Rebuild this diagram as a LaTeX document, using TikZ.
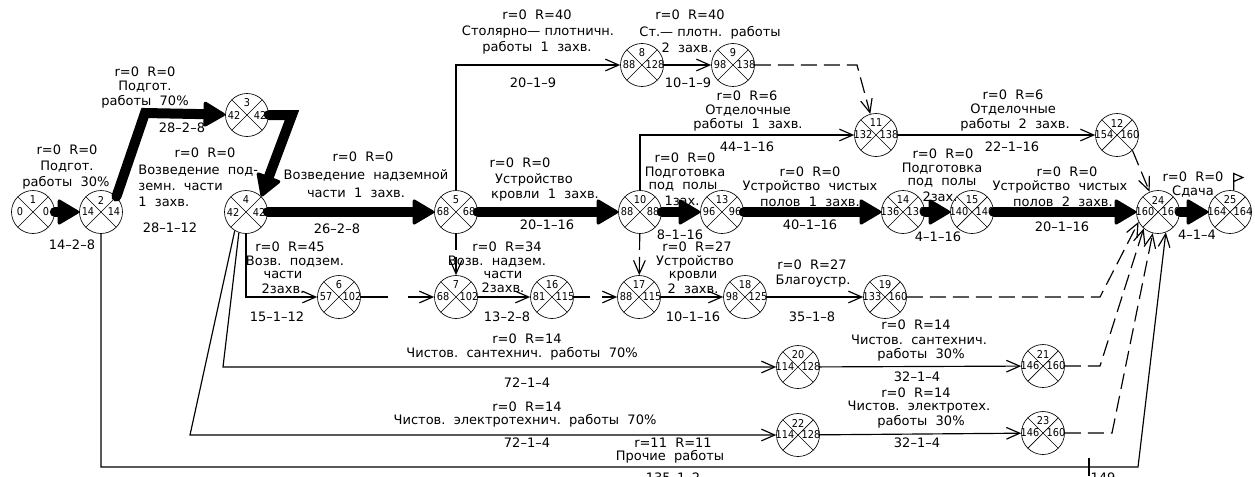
\documentclass[tikz,border=0pt]{standalone}
\usepackage{fontspec}
\setmainfont{DejaVu Sans}
\newfontfamily\numfont{DejaVu Sans Condensed}
\usepackage{tikz}
\usetikzlibrary{arrows.meta}
\tikzstyle{event}=[circle, draw
,minimum size=25.8pt
,inner sep=0pt
,path picture={\draw (path picture bounding box.north west) -- (path picture bounding box.south east)
  (path picture bounding box.south west) -- (path picture bounding box.north east);}
]
\tikzstyle{num} = [inner sep=0pt, font=\numfont\fontsize{6.5}{7}\selectfont]
\tikzstyle{lbl} = [inner sep=0pt, font=\fontsize{7.8}{9.6}\selectfont]
\tikzstyle{crit} = [draw, line width=6pt, line cap=round, -{Triangle[length=14pt,width=16pt,round,line width=2pt]}]
\tikzstyle{work} = [draw, line width=0.7pt, -{Straight Barb[length=8pt,width=7pt]}]
\tikzstyle{dummy} = [work, dash pattern=on 9.6pt off 4.2pt]

\begin{document}
\begin{tikzpicture}[x=0.6pt,y=-0.6pt]
    \useasboundingbox (0,0) rectangle (1255,476);
    % Draw the 25 event network
    % First we draw the events: number, early start, late finish
    \foreach \pos/\name/\es/\lf in {{(33,212)/1/0/0}, {(101,212)/2/14/14}, {(247,115)/3/42/42},
        {(246,212)/4/42/42}, {(456,212)/5/68/68}, {(339,297)/6/57/102}, {(456,297)/7/68/102},
        {(642,65)/8/88/128}, {(733,65)/9/98/138}, {(640,212)/10/88/88}, {(876,135)/11/132/138},
        {(1117,135)/12/154/160}, {(722,212)/13/96/96}, {(903,212)/14/136/136}, {(972,212)/15/140/140},
        {(552,297)/16/81/115}, {(639,297)/17/88/115}, {(745,297)/18/98/125}, {(885,297)/19/133/160},
        {(798,367)/20/114/128}, {(1043,366)/21/146/160}, {(798,435)/22/114/128}, {(1043,433)/23/146/160},
        {(1158,212)/24/160/160}, {(1230,212)/25/164/164}}
    {
        \node[event] (e\name) at \pos {};
        \node[num] at ([shift={(0,-12)}]e\name.center) {\name};
        \node[num] at ([shift={(-13,0)}]e\name.center) {\es};
        \node[num] at ([shift={(13,0)}]e\name.center) {\lf};
    }

    % Connect events with works
    \foreach \source/\dest in {8/9, 11/12, 7/16, 17/18, 18/19, 20/21, 22/23}
        \path[work] (e\source) -- (e\dest);
    \path[work] (e5) |- (e8);
    \path[work] (e10) |- (e11);
    \path[work] (e4) |- (e6);
    \path[work] (e4.-109) -- (223,367) -- (e20);
    \path[work] (e4.-121) -- (190,435) -- (e22);
    \path[work] (e2) |- (1138,467) -- (e24.-69);
    \draw[line width=0.7pt] (1089,458) -- (1089,476);

    % dummy works
    \foreach \source/\dest in {5/7, 10/17}
        \path[dummy] (e\source) -- (e\dest);
    \path[dummy, dash pattern=on 16.2pt off 12pt] (e6) -- (e7);
    \path[dummy, dash pattern=on 9.6pt off 7.2pt] (e16) -- (e17);
    \path[dummy] (e9) -- (857,65) -- (e11);
    \path[dummy] (e12.-45) -- (e24);
    \path[dummy] (e19) -- (1100,297) -- (e24.-153);
    \path[dummy] (e21) -- (1100,366) -- (e24.-131);
    \path[dummy] (e23) -- (1112,433) -- (e24.-104);

    % critical path
    \foreach \source/\dest in {1/2, 4/5, 5/10, 10/13, 13/14, 14/15, 15/24, 24/25}
        \path[crit] (e\source) -- (e\dest);
    \path[crit] (e2.45) -- (145,113) -- (e3);
    \path[crit] (e3) -- (292,115) -- (e4.45);

    % flag on the last event
    \draw[line width=0.7pt] (e25.80) -- ++(0,-17) -- ++(9,4) -- ++(-9,4);

    % Work labels
    \foreach \pos/\txt in {{(67,150)/r=0~~R=0}, {(67,167)/Подгот.}, {(66,183)/работы~~30\%},
        {(72,245)/14–2–8}, {(145,72)/r=0~~R=0}, {(145,87)/Подгот.}, {(145,102)/работы~~70\%},
        {(182,128)/28–2–8}, {(205,153)/r=0~~R=0}, {(170,228)/28–1–12},
        {(363,157)/r=0~~R=0}, {(366,175)/Возведение~~надземной}, {(356,193)/части~~1~~захв.},
        {(337,229)/26–2–8}, {(290,247)/r=0~~R=45}, {(295,262)/Возв.~~подзем.}, {(283,275)/части},
        {(283,289)/2захв.}, {(277,317)/15–1–12},
        {(537,15)/r=0~~R=40}, {(538,32)/Столярно—~плотничн.}, {(537,48)/работы~~1~~захв.},
        {(533,83)/20–1–9}, {(690,15)/r=0~~R=40}, {(710,33)/Ст.—~плотн.~~работы}, {(687,48)/2~~захв.},
        {(688,83)/10–1–9}, {(747,96)/r=0~~R=6}, {(748,111)/Отделочные}, {(748,125)/работы~~1~~захв.},
        {(747,147)/44–1–16}, {(1013,95)/r=0~~R=6}, {(1013,110)/Отделочные}, {(1015,125)/работы~~2~~захв.},
        {(1012,147)/22–1–16}, {(520,163)/r=0~~R=0}, {(534,180)/Устройство}, {(545,195)/кровли~~1~~захв.},
        {(547,225)/20–1–16}, {(685,158)/r=0~~R=0}, {(685,173)/Подготовка}, {(683,187)/под~~полы},
        {(682,201)/1зах.}, {(680,235)/8–1–16}, {(810,172)/r=0~~R=0}, {(810,187)/Устройство~~чистых},
        {(810,202)/полов~~1~~захв.}, {(810,225)/40–1–16}, {(943,154)/r=0~~R=0}, {(942,169)/Подготовка},
        {(942,183)/под~~полы}, {(940,197)/2зах.}, {(938,237)/4–1–16}, {(1067,172)/r=0~~R=0},
        {(1060,187)/Устройство~~чистых}, {(1063,202)/полов~~2~~захв.}, {(1062,227)/20–1–16},
        {(1193,177)/r=0~~R=0}, {(1193,192)/Сдача}, {(1197,235)/4–1–4},
        {(507,247)/r=0~~R=34}, {(497,262)/Возв.~~надзем.}, {(503,275)/части}, {(503,288)/2захв.},
        {(507,317)/13–2–8}, {(697,247)/r=0~~R=27}, {(695,262)/Устройство}, {(693,276)/кровли},
        {(693,289)/2~~захв.}, {(693,317)/10–1–16}, {(812,265)/r=0~~R=27}, {(813,281)/Благоустр.},
        {(812,317)/35–1–8}, {(527,339)/r=0~~R=14}, {(522,354)/Чистов.~~сантехнич.~~работы~~70\%},
        {(527,383)/72–1–4}, {(527,407)/r=0~~R=14}, {(525,421)/Чистов.~~электротехнич.~~работы~~70\%},
        {(527,443)/72–1–4}, {(916,325)/r=0~~R=14}, {(919,340)/Чистов.~~сантехнич.}, {(921,355)/работы~~30\%},
        {(917,377)/32–1–4}, {(916,393)/r=0~~R=14}, {(919,407)/Чистов.~~электротех.}, {(921,422)/работы~~30\%},
        {(917,443)/32–1–4}, {(673,443)/r=11~~R=11}, {(670,457)/Прочие~~работы},
        {(673,478)/135–1–2}, {(1103,478)/149}}
        \node[lbl] at \pos {\txt};
    \node[lbl, align=left, anchor=west] at (138,186) {Возведение~~под-\\земн.~~части\\1~~захв.};

\end{tikzpicture}
\end{document}
